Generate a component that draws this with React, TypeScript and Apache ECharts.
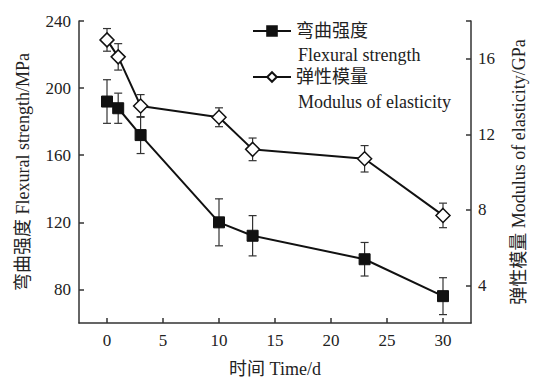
import React, { useEffect, useRef } from "react";
import * as echarts from "echarts";

const days = [0, 1, 3, 10, 13, 23, 30];
const flexural = [192, 188, 172, 120, 112, 98, 76];
const flexuralErr = [13, 9, 11, 14, 12, 10, 11];
const modulus = [17.0, 16.1, 13.5, 12.9, 11.2, 10.7, 7.7];
const modulusErr = [0.6, 0.7, 0.6, 0.5, 0.6, 0.7, 0.65];
const xTicks = [0, 5, 10, 15, 20, 25, 30];
const leftTicks = [80, 120, 160, 200, 240];
const rightTicks = [4, 8, 12, 16];

const FONT = "'Liberation Serif', 'Times New Roman', 'Noto Sans CJK SC', serif";
const INK = "#222";

export default function App() {
  const ref = useRef<HTMLDivElement>(null);
  useEffect(() => {
    if (!ref.current) return;
    const chart = echarts.init(ref.current, null, { renderer: "svg" });
    const errRender = (params: any, api: any) => {
      const x = api.value(0);
      const lo = api.coord([x, api.value(1)]);
      const hi = api.coord([x, api.value(2)]);
      const w = 4;
      const style = { stroke: "#333", lineWidth: 1.2 };
      return {
        type: "group",
        children: [
          { type: "line", shape: { x1: lo[0], y1: lo[1], x2: hi[0], y2: hi[1] }, style },
          { type: "line", shape: { x1: lo[0] - w, y1: lo[1], x2: lo[0] + w, y2: lo[1] }, style },
          { type: "line", shape: { x1: hi[0] - w, y1: hi[1], x2: hi[0] + w, y2: hi[1] }, style },
        ],
      };
    };
    const axisLine = { show: true, onZero: false, lineStyle: { color: "#333", width: 1.5 } };
    const label = { color: INK, fontFamily: FONT, fontSize: 17 };
    const nameStyle = { color: INK, fontFamily: FONT, fontSize: 18 };
    chart.setOption({
      animation: false,
      backgroundColor: "#fff",
      grid: { left: 79, right: 56, top: 21, bottom: 53 },
      legend: {
        orient: "vertical",
        left: 252,
        top: 21,
        padding: 0,
        itemWidth: 38,
        itemHeight: 12,
        itemGap: 26,
        textStyle: { color: INK, fontFamily: FONT, fontSize: 18, lineHeight: 20 },
        data: ["弯曲强度", "弹性模量"],
      },
      graphic: [
        { type: "text", left: 298, top: 46, style: { text: "Flexural strength", fill: INK, font: `18px ${FONT}` } },
        { type: "text", left: 298, top: 93, style: { text: "Modulus of elasticity", fill: INK, font: `18px ${FONT}` } },
      ],
      xAxis: {
        type: "value",
        min: -2.5,
        max: 32.5,
        name: "时间 Time/d",
        nameLocation: "middle",
        nameGap: 37,
        nameTextStyle: { ...nameStyle },
        axisLine,
        axisTick: { inside: true, length: 5, customValues: xTicks, lineStyle: { color: "#333", width: 1.5 } },
        axisLabel: { ...label, margin: 9, customValues: xTicks },
        splitLine: { show: false },
      },
      yAxis: [
        {
          type: "value",
          min: 60,
          max: 240,
          name: "弯曲强度 Flexural strength/MPa",
          nameLocation: "middle",
          nameRotate: 90,
          nameGap: 47,
          nameTextStyle: { ...nameStyle },
          axisLine,
          axisTick: { inside: true, length: 5, customValues: leftTicks, lineStyle: { color: "#333", width: 1.5 } },
          axisLabel: { ...label, margin: 8, customValues: leftTicks },
          splitLine: { show: false },
        },
        {
          type: "value",
          min: 2,
          max: 18,
          position: "right",
          name: "弹性模量 Modulus of elasticity/GPa",
          nameLocation: "middle",
          nameRotate: 90,
          nameGap: 39,
          nameTextStyle: { ...nameStyle },
          axisLine,
          axisTick: { inside: true, length: 5, customValues: [...rightTicks, 18], lineStyle: { color: "#333", width: 1.5 } },
          axisLabel: { ...label, margin: 7, customValues: rightTicks },
          splitLine: { show: false },
        },
      ],
      series: [
        {
          type: "custom",
          yAxisIndex: 0,
          z: 1,
          silent: true,
          renderItem: errRender,
          data: days.map((d, i) => [d, flexural[i] - flexuralErr[i], flexural[i] + flexuralErr[i]]),
          encode: { x: 0, y: [1, 2] },
        },
        {
          type: "custom",
          yAxisIndex: 1,
          z: 1,
          silent: true,
          renderItem: errRender,
          data: days.map((d, i) => [d, modulus[i] - modulusErr[i], modulus[i] + modulusErr[i]]),
          encode: { x: 0, y: [1, 2] },
        },
        {
          name: "弯曲强度",
          type: "line",
          yAxisIndex: 0,
          z: 3,
          symbol: "rect",
          symbolSize: 11,
          showAllSymbol: true,
          lineStyle: { color: "#111", width: 2 },
          itemStyle: { color: "#111", borderColor: "#111", borderWidth: 1 },
          data: days.map((d, i) => [d, flexural[i]]),
        },
        {
          name: "弹性模量",
          type: "line",
          yAxisIndex: 1,
          z: 3,
          symbol: "diamond",
          symbolSize: 14,
          showAllSymbol: true,
          lineStyle: { color: "#111", width: 2 },
          itemStyle: { color: "#fff", borderColor: "#111", borderWidth: 1.5 },
          data: days.map((d, i) => [d, modulus[i]]),
        },
      ],
    });
    return () => chart.dispose();
  }, []);
  return <div ref={ref} style={{ width: 536, height: 383, position: "absolute", left: 0, top: 0 }} />;
}
